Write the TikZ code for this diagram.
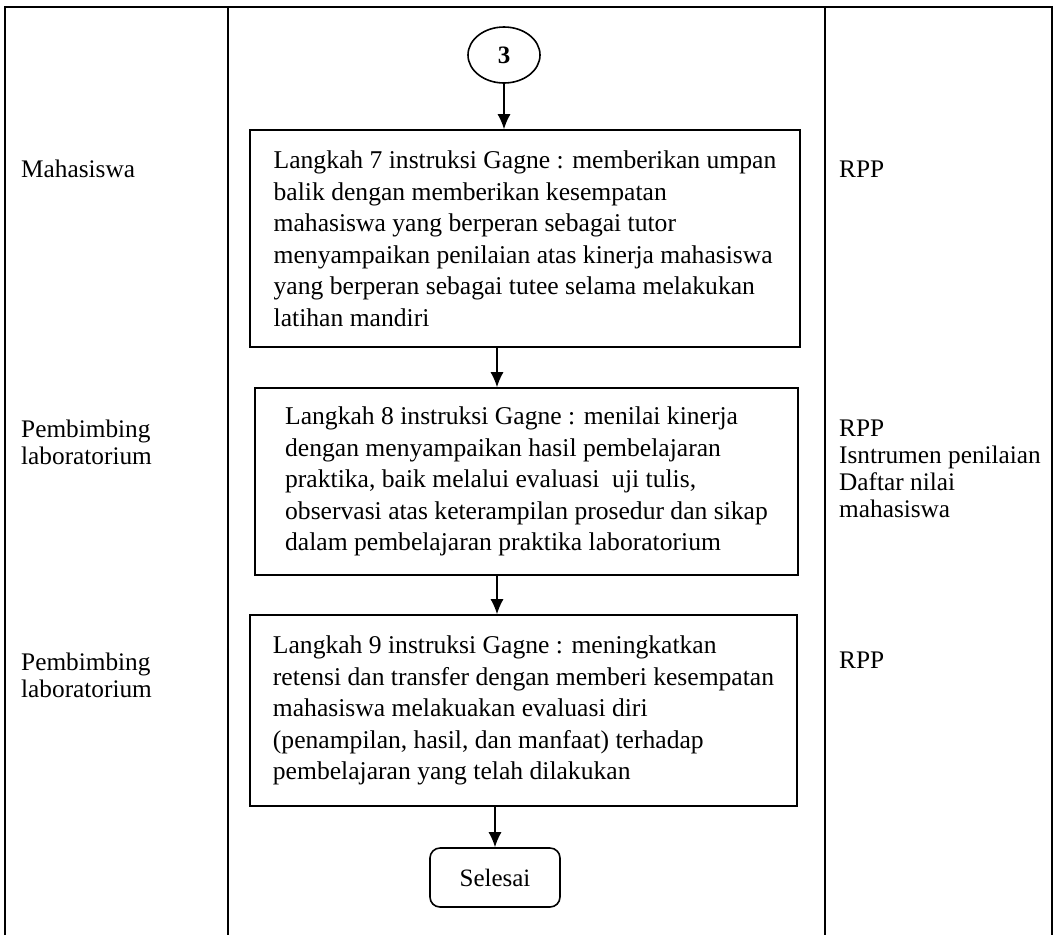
\documentclass[tikz,border=0pt]{standalone}
\usepackage{fontspec}
\setmainfont{Liberation Serif}
\usetikzlibrary{arrows.meta,shapes.geometric}
\begin{document}
\begin{tikzpicture}[x=1pt,y=-1pt,
  frame/.style={line width=1.3pt},
  stepbox/.style={draw,line width=1.6pt,rectangle,align=left,inner xsep=0pt,inner ysep=0pt,
    font=\fontsize{25.6}{31.5}\selectfont},
  lab/.style={inner sep=0pt,align=left,anchor=north west,font=\fontsize{25.3}{27}\selectfont},
  arr/.style={line width=1.4pt,-{Latex[length=15pt,width=13pt]}}]
\useasboundingbox (0,0) rectangle (1056,935);
% frame
\draw[frame] (5,935) -- (5,7) -- (1052,7) -- (1052,935);
\draw[frame] (228,7) -- (228,935);
\draw[frame] (825,7) -- (825,935);
% connector circle
\node[draw,ellipse,line width=1.6pt,minimum width=72pt,minimum height=56pt,inner sep=0pt,
  font=\fontsize{25}{27}\selectfont\bfseries] (c3) at (504,55) {3};
% boxes
\node[stepbox,minimum width=550pt,minimum height=217pt] (b1) at (525,238.5)
 {Langkah 7 instruksi Gagne : memberikan umpan\\
  balik dengan memberikan kesempatan\\
  mahasiswa yang berperan sebagai tutor\\
  menyampaikan penilaian atas kinerja mahasiswa\\
  yang berperan sebagai tutee selama melakukan\\
  latihan mandiri};
\node[stepbox,minimum width=543pt,minimum height=187pt] (b2) at (526.5,481.5)
 {Langkah 8 instruksi Gagne : menilai kinerja\\
  dengan menyampaikan hasil pembelajaran\\
  praktika, baik melalui evaluasi\ \ uji tulis,\\
  observasi atas keterampilan prosedur dan sikap\\
  dalam pembelajaran praktika laboratorium};
\node[stepbox,minimum width=547pt,minimum height=191pt] (b3) at (523.5,710.5)
 {Langkah 9 instruksi Gagne : meningkatkan\\
  retensi dan transfer dengan memberi kesempatan\\
  mahasiswa melakuakan evaluasi diri\\
  (penampilan, hasil, dan manfaat) terhadap\\
  pembelajaran yang telah dilakukan};
\node[draw,rectangle,rounded corners=10pt,line width=1.6pt,minimum width=130pt,minimum height=59pt,
  font=\fontsize{25}{27}\selectfont] (end) at (495,877.5) {Selesai};
% arrows
\coordinate (ax) at (497,0);
\draw[arr] (c3.south) -- (c3.south |- b1.north);
\draw[arr] (b1.south -| ax) -- (b2.north -| ax);
\draw[arr] (b2.south -| ax) -- (b3.north -| ax);
\draw[arr] (b3.south -| end.north) -- (end.north);
% left labels
\node[lab,anchor=base west] (l1) at (21,177) {Mahasiswa};
\node[lab] (l2) at (21,420) {Pembimbing\\laboratorium};
\node[lab] (l3) at (21,653) {Pembimbing\\laboratorium};
% right labels
\node[lab,anchor=base west] (r1) at (839,177) {RPP};
\node[lab] (r2) at (839,420) {RPP\\Isntrumen penilaian\\Daftar nilai\\mahasiswa};
\node[lab,anchor=base west] (r3) at (839,668) {RPP};
\end{tikzpicture}
\end{document}
